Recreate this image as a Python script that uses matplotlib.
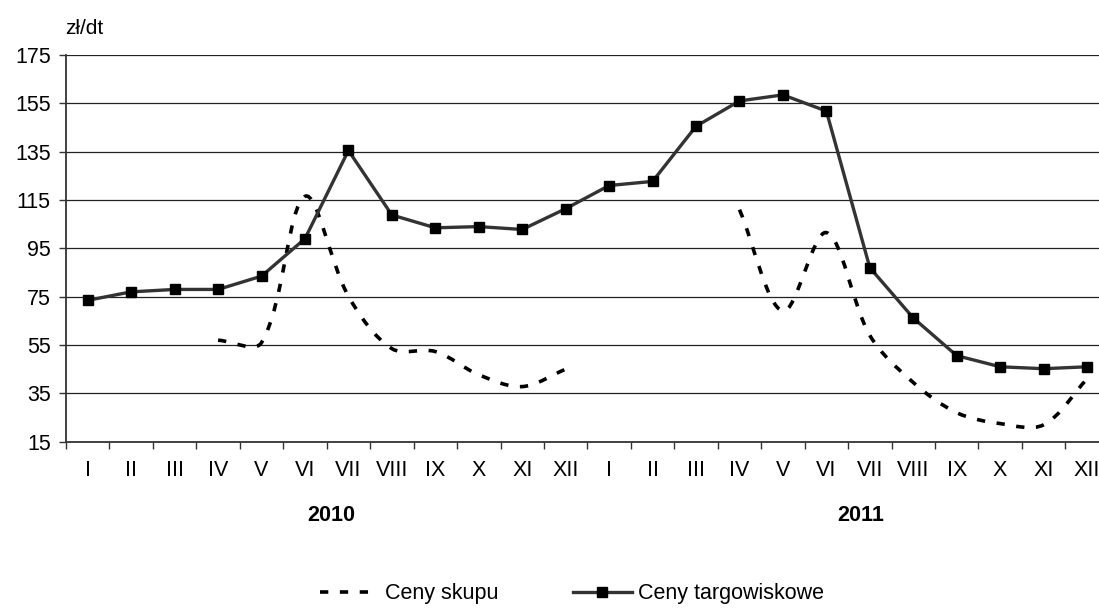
import numpy as np
import matplotlib
matplotlib.use("Agg")
import matplotlib.pyplot as plt
from matplotlib.path import Path
from matplotlib.patches import PathPatch
from matplotlib.lines import Line2D

plt.rcParams['font.family'] = ['Liberation Sans', 'DejaVu Sans']

months = ["I", "II", "III", "IV", "V", "VI", "VII", "VIII", "IX", "X", "XI", "XII"] * 2
years = ["2010", "2011"]

# Ceny targowiskowe (market prices), zł/dt
market = [73.5, 77, 78, 78, 83.5, 99, 135.5, 108.8, 103.5, 104, 102.8, 111.4,
          121, 122.7, 145.5, 156, 158.5, 151.8, 87, 66.2, 50.6, 46, 45.2, 46]

# Ceny skupu (procurement prices), zł/dt; None = no data
skup = [None, None, None, 57, 56, 116.5, 75.2, 53.5, 52.3, 42.7, 37.8, 45,
        None, None, None, 111, 69, 101.5, 59, 39.5, 27, 22.5, 22, 41]

fig = plt.figure(figsize=(10.99, 6.08), dpi=100)
ax = fig.add_axes([66/1099, 1 - 441.7/608, 1042.8/1099, 386.7/608])

x = np.arange(len(months))

yticks = np.arange(15, 176, 20)
ax.set_ylim(15, 175)
ax.set_xlim(-0.5, len(months) - 0.5)
ax.set_yticks(yticks)
ax.yaxis.grid(True, color='#222222', lw=0.9)
ax.set_axisbelow(True)


def smooth_path(xs, ys, ax):
    # Bezier spline through the points, tangents scaled by screen-space chord lengths
    fig.canvas.draw()
    pts = ax.transData.transform(np.column_stack([xs, ys]))
    n = len(pts)
    verts = [tuple(pts[0])]
    codes = [Path.MOVETO]
    for i in range(n - 1):
        p0 = pts[max(i - 1, 0)]
        p1 = pts[i]
        p2 = pts[i + 1]
        p3 = pts[min(i + 2, n - 1)]
        d01 = np.linalg.norm(p1 - p0)
        d12 = np.linalg.norm(p2 - p1)
        d23 = np.linalg.norm(p3 - p2)
        f1 = d12 / (d01 + d12) if d01 + d12 > 0 else 0
        f2 = d12 / (d12 + d23) if d12 + d23 > 0 else 0
        c1 = p1 + (p2 - p0) * f1 / 3.0
        c2 = p2 - (p3 - p1) * f2 / 3.0
        verts += [tuple(c1), tuple(c2), tuple(p2)]
        codes += [Path.CURVE4, Path.CURVE4, Path.CURVE4]
    return Path(verts, codes)


dash = (0, (2.3, 3.2))
DLW = 2.6
seg_x, seg_y = [], []
segments = []
for xi, v in zip(x, skup):
    if v is None:
        if seg_x:
            segments.append((seg_x, seg_y))
        seg_x, seg_y = [], []
    else:
        seg_x.append(xi)
        seg_y.append(v)
if seg_x:
    segments.append((seg_x, seg_y))

for sx, sy in segments:
    patch = PathPatch(smooth_path(sx, sy, ax), fill=False, edgecolor='black',
                      lw=DLW, linestyle=dash, capstyle='butt', zorder=3,
                      transform=None)
    ax.add_patch(patch)

ax.plot(x, market, color='#333333', lw=2.4, marker='s', markersize=6.5,
        markerfacecolor='black', markeredgecolor='black', zorder=4)

for s in ['top', 'right']:
    ax.spines[s].set_visible(False)
for s in ['left', 'bottom']:
    ax.spines[s].set_color('#333333')
    ax.spines[s].set_linewidth(1.3)

ax.tick_params(axis='y', length=5, width=1, color='#333333', labelsize=15.5, pad=6)
ax.set_xticks(np.arange(-0.5, len(months) + 0.5, 1))
ax.set_xticklabels([])
ax.tick_params(axis='x', which='major', length=5, width=1, color='#333333')
ax.set_xticks(x, minor=True)
ax.set_xticklabels(months, minor=True)
ax.tick_params(axis='x', which='minor', length=0, labelsize=15.5, pad=13)

for xc, yr in zip([5.6, 17.8], years):
    ax.text(xc, -0.19, yr, transform=ax.get_xaxis_transform(), ha='center', va='center',
            fontsize=15.5, fontweight='bold')

fig.text(65/1099, 1 - 28/608, "zł/dt", fontsize=15, ha='left', va='center')

handles = [Line2D([], [], color='black', lw=DLW, linestyle=dash, dash_capstyle='butt'),
           Line2D([], [], color='#333333', lw=2.4, marker='s', markersize=6.5,
                  markerfacecolor='black', markeredgecolor='black')]
fig.legend(handles, ["Ceny skupu", "Ceny targowiskowe"], loc='center',
           bbox_to_anchor=(572/1099, 1 - 594/608), ncol=2, frameon=False,
           fontsize=15.5, handlelength=2.7, handletextpad=0.3, columnspacing=3.5)

fig.savefig("out.png", dpi=100)
